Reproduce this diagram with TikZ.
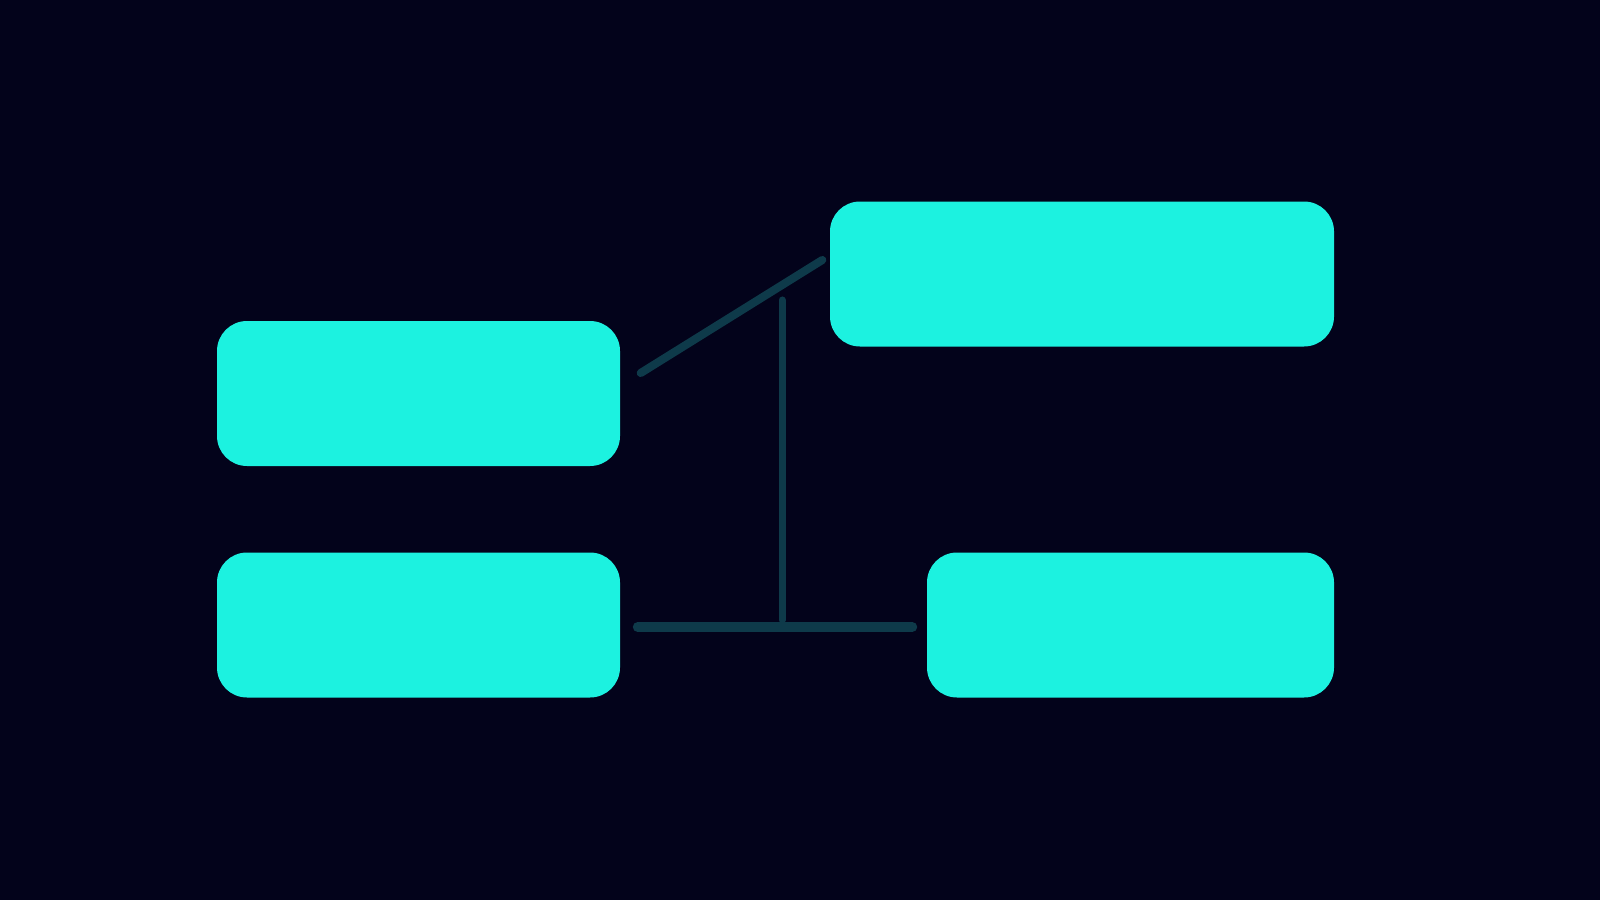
\documentclass[tikz,border=0pt]{standalone}
\usepackage{tikz}
\usetikzlibrary{arrows.meta}
\usetikzlibrary{shapes.geometric}

\definecolor{bgnight}{HTML}{03031B}
\definecolor{boxaqua}{HTML}{1CF2E0}
\definecolor{linkteal}{HTML}{0E3A4A}

\begin{document}
\begin{tikzpicture}
		\tikzset{box/.style={rectangle,rounded corners=0.3cm,fill=boxaqua,
				minimum height=1.45cm,inner sep=0pt},
			link/.style={draw=linkteal,line cap=round}}
		\fill[bgnight] (0,0) rectangle (16,9);
		\useasboundingbox (0,0) rectangle (16,9);
		% left column
		\node[box,minimum width=4.03cm] (lt) at (4.185,5.065) {};
		\node[box,minimum width=4.03cm] (lb) at (4.185,2.75) {};
		% right column
		\node[box,minimum width=5.04cm] (rt) at (10.82,6.26) {};
		\node[box,minimum width=4.07cm] (rb) at (11.305,2.75) {};
		% connectors
		\draw[link,line width=2.3pt] ([xshift=0.2cm,yshift=0.205cm]lt.east) -- ([xshift=-0.07cm,yshift=0.14cm]rt.west);
		\draw[link,line width=2.8pt] ([xshift=0.17cm,yshift=-0.02cm]lb.east) -- ([xshift=-0.14cm,yshift=-0.02cm]rb.west);
		\coordinate (tee) at (7.82,2.80);
		\coordinate (tap) at (7.82,6.0);
		\draw[link,line width=2pt] (tee) -- (tap);
	\end{tikzpicture}
\end{document}
